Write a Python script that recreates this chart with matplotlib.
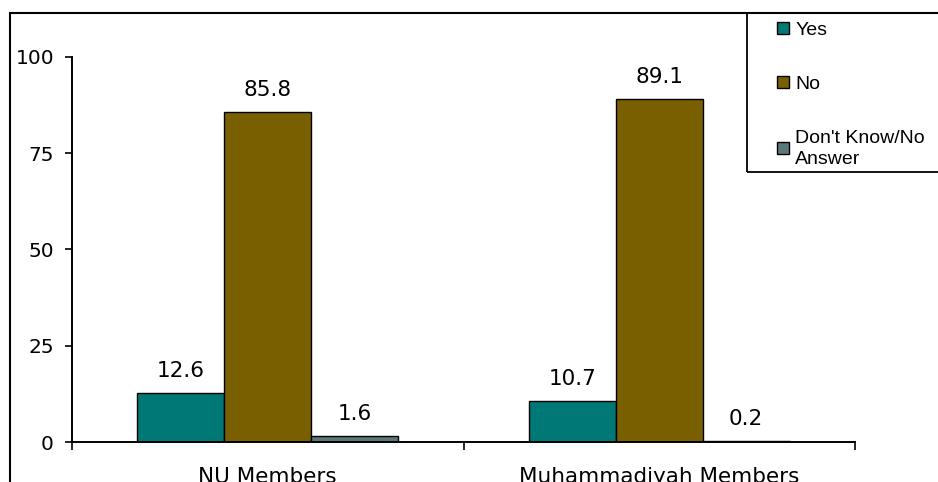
import numpy as np
import matplotlib
matplotlib.use("Agg")
import matplotlib.pyplot as plt
from matplotlib.patches import Rectangle

# data
groups = ["NU Members", "Muhammadiyah Members"]
series = ["Yes", "No", "Don't Know/No\nAnswer"]
yes = [12.6, 10.7]
no = [85.8, 89.1]
dk = [1.6, 0.2]
colors = ["#007875", "#7a5f00", "#5d7878"]

W, H = 938, 482
fig = plt.figure(figsize=(W / 100, H / 100), dpi=100)
plt.rcParams['font.family'] = ['DejaVu Sans']

# axes placed in pixel terms
ax = fig.add_axes([72 / W, 40 / H, (855 - 72) / W, 385 / H])

x = np.arange(len(groups))
bw = 0.222
vals = [yes, no, dk]
bars = []
for i, v in enumerate(vals):
    b = ax.bar(x + (i - 1) * bw, v, bw, color=colors[i], edgecolor="black",
               linewidth=1, label=series[i])
    bars.append(b)
    for xi, vi in zip(x + (i - 1) * bw, v):
        ax.annotate("%.1f" % vi, (xi, vi), xytext=(0, 22), textcoords="offset pixels",
                    ha="center", va="center", fontsize=15.5)

ax.set_xlim(-0.5, 1.5)
ax.set_ylim(0, 100)
ax.set_yticks([0, 25, 50, 75, 100])
ax.tick_params(axis="y", labelsize=14.5, length=5, width=1.2, direction="out", pad=8)

# x ticks at category boundaries, labels in the middle
ax.set_xticks([-0.5, 0.5, 1.5])
ax.set_xticklabels([])
ax.set_xticks(x, minor=True)
ax.set_xticklabels(groups, minor=True, fontsize=15.5)
ax.tick_params(axis="x", which="major", length=6, width=1.2)
ax.tick_params(axis="x", which="minor", length=0, pad=18)

for s in ["top", "right"]:
    ax.spines[s].set_visible(False)
for s in ["left", "bottom"]:
    ax.spines[s].set_linewidth(1.4)

# outer frame and legend box
fig.add_artist(Rectangle((10 / W, -0.1), 1.2, 1 - 13 / H + 0.1, transform=fig.transFigure,
                         fill=False, edgecolor="black", linewidth=1.5))
fig.add_artist(Rectangle((747 / W, 1 - 172 / H), 0.5, (172 - 13) / H,
                         transform=fig.transFigure, fill=False, edgecolor="black",
                         linewidth=1.3))

leg = fig.legend(handles=bars, labels=series, loc="upper left",
                 bbox_to_anchor=(767 / W, 1 - 12 / H), frameon=False,
                 prop={'family': ['Liberation Sans'], 'size': 14},
                 handlelength=0.65, handleheight=0.6,
                 handletextpad=0.3, labelspacing=1.9, borderpad=0)
for t in leg.get_texts():
    t.set_linespacing(1.3)

fig.savefig("out.png", dpi=100)
